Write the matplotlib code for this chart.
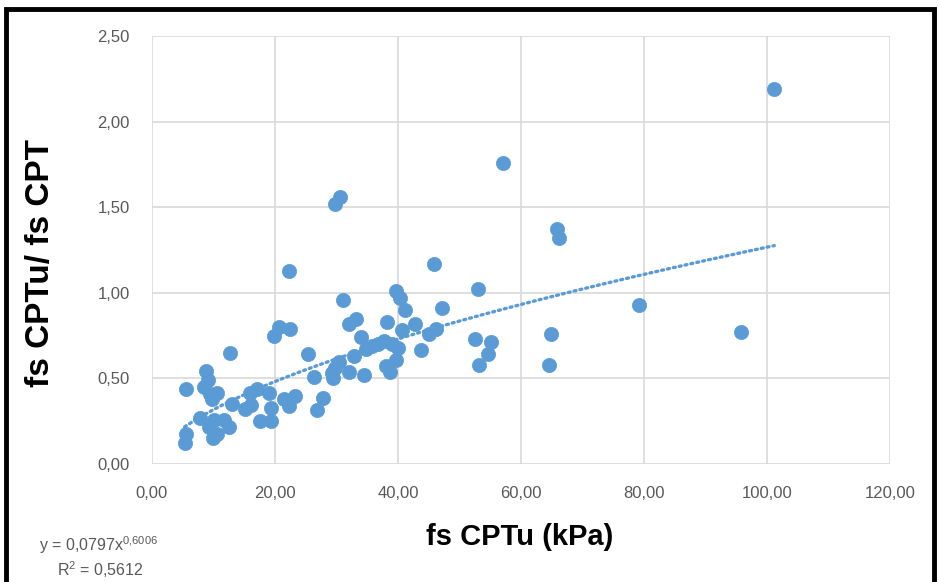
import numpy as np
import matplotlib
matplotlib.use("Agg")
import matplotlib.pyplot as plt
from matplotlib.ticker import FuncFormatter, MultipleLocator
from matplotlib.patches import Rectangle

plt.rcParams['font.family'] = ['Liberation Sans', 'DejaVu Sans']
plt.rcParams['mathtext.default'] = 'regular'

# fs CPTu (kPa) and ratio fs CPTu / fs CPT
fs_cptu = [101.2, 57.0, 29.8, 30.6, 65.8, 66.2, 45.8, 22.3, 53.0, 39.6,
           40.3, 31.1, 79.2, 41.2, 47.1, 33.2, 32.1, 38.2, 42.7, 20.6,
           22.5, 19.8, 46.2, 45.1, 40.6, 95.8, 64.9, 52.5, 55.2, 34.0,
           34.8, 35.8, 36.7, 37.7, 39.0, 40.0, 43.8, 12.7, 25.3, 54.6,
           32.8, 39.7, 53.1, 64.5, 30.4, 29.8, 38.1, 38.7, 32.1, 34.4,
           29.3, 29.4, 26.4, 8.8, 9.1, 8.5, 5.6, 10.6, 9.4, 9.8,
           17.0, 15.9, 19.0, 16.1, 15.1, 13.0, 19.4, 21.5, 22.3, 23.2,
           27.8, 26.8, 17.6, 19.3, 7.8, 10.1, 11.7, 12.5, 9.2, 10.5,
           9.9, 5.5, 5.3]
ratio = [2.19, 1.76, 1.52, 1.56, 1.37, 1.32, 1.17, 1.13, 1.02, 1.01,
         0.97, 0.96, 0.93, 0.90, 0.91, 0.85, 0.82, 0.83, 0.82, 0.80,
         0.79, 0.745, 0.79, 0.76, 0.78, 0.77, 0.76, 0.73, 0.71, 0.74,
         0.67, 0.69, 0.70, 0.72, 0.70, 0.675, 0.667, 0.65, 0.64, 0.64,
         0.63, 0.61, 0.58, 0.58, 0.595, 0.56, 0.57, 0.54, 0.54, 0.52,
         0.53, 0.50, 0.51, 0.545, 0.49, 0.45, 0.44, 0.415, 0.41, 0.38,
         0.44, 0.415, 0.415, 0.345, 0.32, 0.35, 0.33, 0.38, 0.34, 0.395,
         0.385, 0.315, 0.25, 0.25, 0.27, 0.26, 0.26, 0.215, 0.215, 0.175,
         0.15, 0.175, 0.12]

# power trendline as printed on the chart
coef_a = 0.0797
coef_b = 0.6006
r2 = 0.5612

blue = '#5B9BD5'
grey = '#595959'

fig = plt.figure(figsize=(9.4, 5.82), dpi=100)
ax = fig.add_axes([0.1617, 0.2027, 0.785, 0.7354])

ax.scatter(fs_cptu, ratio, s=105, color=blue, edgecolors=blue, linewidths=0.5, zorder=3)

xt = np.linspace(min(fs_cptu), max(fs_cptu), 200)
ax.plot(xt, coef_a * xt ** coef_b, color=blue, lw=2.4, linestyle=(0, (0.6, 1.2)),
        dash_capstyle='round', zorder=2)

ax.set_xlim(0, 120)
ax.set_ylim(0, 2.5)
ax.xaxis.set_major_locator(MultipleLocator(20))
ax.yaxis.set_major_locator(MultipleLocator(0.5))
comma = FuncFormatter(lambda v, p: ('%.2f' % v).replace('.', ','))
ax.xaxis.set_major_formatter(comma)
ax.yaxis.set_major_formatter(comma)
ax.grid(True, color='#D9D9D9', lw=1.2)
ax.set_axisbelow(True)
for s in ax.spines.values():
    s.set_visible(False)
ax.tick_params(length=0, labelsize=12, labelcolor=grey)
ax.tick_params(axis='x', pad=16)
ax.tick_params(axis='y', pad=16)

fig.text(0.043, 0.548, 'fs CPTu/ fs CPT', rotation=90, ha='center', va='center',
         fontsize=24, fontweight='bold', color='black')
fig.text(0.553, 0.077, 'fs CPTu (kPa)', ha='center', va='center',
         fontsize=21, fontweight='bold', color='black')

fig.text(0.042, 0.063, 'y = 0,0797x$^{0{,}6006}$', ha='left', va='center',
         fontsize=11.5, color=grey)
fig.text(0.061, 0.022, 'R$^{2}$ = %s' % str(r2).replace('.', ','), ha='left', va='center',
         fontsize=11.5, color=grey)

# black frame around the chart (bottom edge cut off)
fig.patches.append(Rectangle((0.006, -0.1), 0.988, 1.085, transform=fig.transFigure,
                             fill=False, edgecolor='black', lw=3.5))

fig.savefig('out.png', dpi=100)
